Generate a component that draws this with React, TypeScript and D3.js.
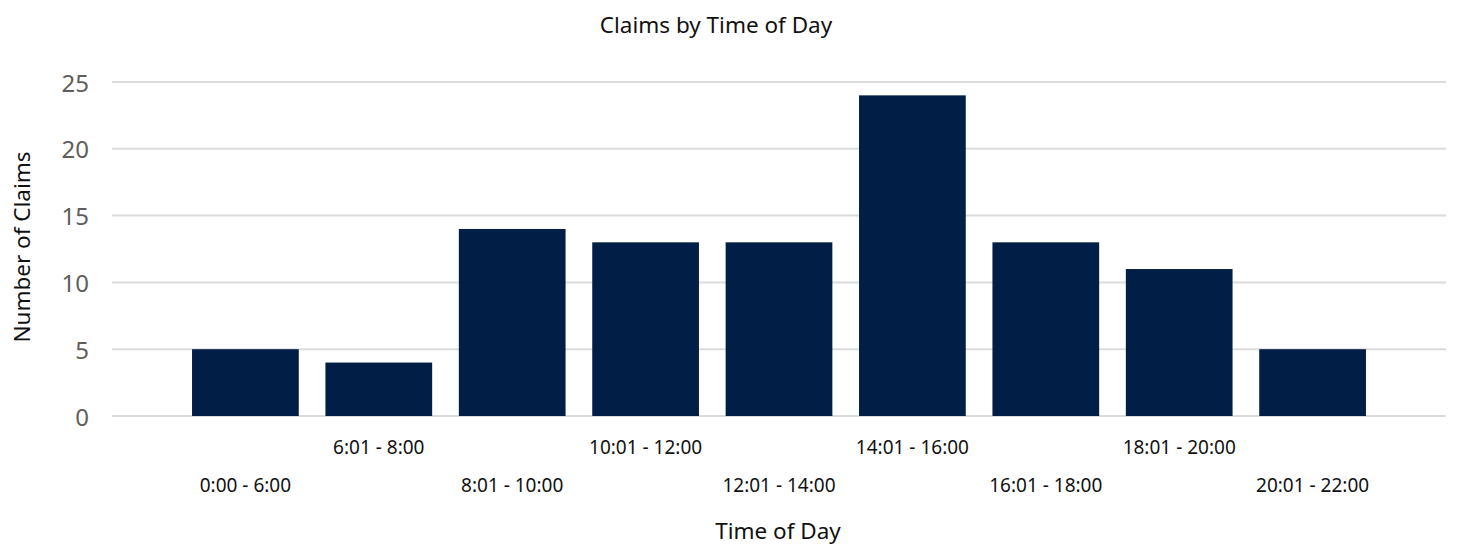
import React from "react";
import * as d3 from "d3";

const categories = ["0:00 - 6:00", "6:01 - 8:00", "8:01 - 10:00", "10:01 - 12:00", "12:01 - 14:00", "14:01 - 16:00", "16:01 - 18:00", "18:01 - 20:00", "20:01 - 22:00"];
const claims = [5, 4, 14, 13, 13, 24, 13, 11, 5];
const yTicks = [0, 5, 10, 15, 20, 25];

const W = 1458, H = 555;
const left = 112, right = 1446, top = 82, bottom = 416;
const FONT = "'Noto Sans', 'Open Sans', sans-serif";

export default function App() {
  const x = d3.scaleBand<string>().domain(categories).range([left, right]).paddingInner(0.2).paddingOuter(0.6);
  const y = d3.scaleLinear().domain([0, 25]).range([bottom, top]);
  return (
    <svg width={W} height={H} style={{ position: "absolute", left: 0, top: 0 }} fontFamily={FONT}>
      <rect width={W} height={H} fill="#fff" />
      <text x={716} y={24} textAnchor="middle" dominantBaseline="central" fontSize={22.5} fill="#111">Claims by Time of Day</text>
      {yTicks.map(t => (
        <g key={t}>
          <line x1={left} x2={right} y1={y(t)} y2={y(t)} stroke="#dcdcdc" strokeWidth={2} />
          <text x={89} y={y(t)} textAnchor="end" dominantBaseline="central" fontSize={24} fill="#605e5c">{t}</text>
        </g>
      ))}
      {categories.map((c, i) => (
        <rect key={c} x={x(c)} y={y(claims[i])} width={x.bandwidth()} height={y(0) - y(claims[i])} fill="#011f46" />
      ))}
      {categories.map((c, i) => (
        <text key={"l" + c} x={(x(c) as number) + x.bandwidth() / 2} y={i % 2 === 0 ? 485 : 447} textAnchor="middle" dominantBaseline="central" fontSize={19} fill="#111">{c}</text>
      ))}
      <text x={778} y={530} textAnchor="middle" dominantBaseline="central" fontSize={22.5} fill="#111">Time of Day</text>
      <text transform={`translate(21,247) rotate(-90)`} textAnchor="middle" dominantBaseline="central" fontSize={22.5} fill="#111">Number of Claims</text>
    </svg>
  );
}
